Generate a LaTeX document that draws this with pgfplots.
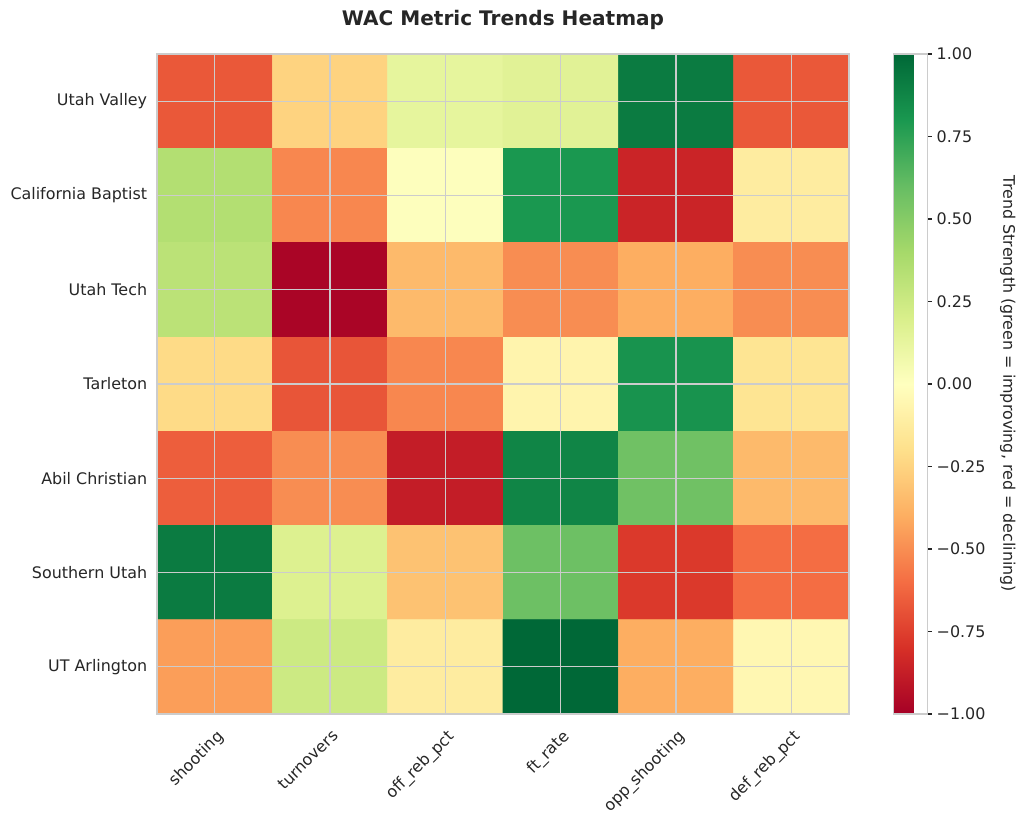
\documentclass[border=0pt]{standalone}
\usepackage{fontspec}
\setmainfont{DejaVu Sans}
\usepackage{pgfplots}
\pgfplotsset{compat=1.18}
\usepackage{pgfplotstable}

\definecolor{txt}{RGB}{38,38,38}
\definecolor{gridc}{RGB}{204,204,204}

% trend strength, rows top to bottom, columns left to right
\pgfplotstableread{
x y c
0 0 -0.67
1 0 -0.25
2 0 0.13
3 0 0.16
4 0 0.92
5 0 -0.67
0 1 0.35
1 1 -0.52
2 1 0.01
3 1 0.80
4 1 -0.85
5 1 -0.12
0 2 0.32
1 2 -0.98
2 2 -0.35
3 2 -0.50
4 2 -0.40
5 2 -0.50
0 3 -0.22
1 3 -0.68
2 3 -0.52
3 3 -0.07
4 3 0.82
5 3 -0.17
0 4 -0.65
1 4 -0.50
2 4 -0.88
3 4 0.88
4 4 0.57
5 4 -0.35
0 5 0.92
1 5 0.18
2 5 -0.32
3 5 0.58
4 5 -0.77
5 5 -0.60
0 6 -0.45
1 6 0.25
2 6 -0.12
3 6 1.00
4 6 -0.40
5 6 -0.05
}\heat

\begin{document}
\begin{tikzpicture}
\path[use as bounding box] (0,0) rectangle (10.24in,8.22in);
\begin{axis}[
    at={(1.57in,1.08in)}, anchor=south west,
    scale only axis,
    width=6.92in, height=6.60in,
    font=\fontsize{11.5}{13.5}\selectfont,
    every tick label/.append style={text=txt},
    title={\bfseries WAC Metric Trends Heatmap},
    title style={font=\fontsize{14.5}{17}\selectfont, text=txt, at={(0.5,1)}, anchor=base, yshift=0.20in},
    xmin=-0.5, xmax=5.5, ymin=-0.5, ymax=6.5,
    y dir=reverse,
    xtick={0,...,5},
    xticklabels={shooting, turnovers, off\_reb\_pct, ft\_rate, opp\_shooting, def\_reb\_pct},
    ytick={0,...,6},
    yticklabels={Utah Valley, California Baptist, Utah Tech, Tarleton, Abil Christian, Southern Utah, UT Arlington},
    x tick label style={xshift=0.01in, yshift=-0.08in, rotate=45, anchor=north east},
    y tick label style={xshift=-0.05in},
    major tick length=0pt,
    grid=major,
    grid style={gridc, line width=0.8pt},
    axis line style={gridc, line width=0.8pt},
    axis on top,
    colormap={RdYlGn}{rgb255=(165,0,38) rgb255=(215,48,39) rgb255=(244,109,67) rgb255=(253,174,97) rgb255=(254,224,139) rgb255=(255,255,191) rgb255=(217,239,139) rgb255=(166,217,106) rgb255=(102,189,99) rgb255=(26,152,80) rgb255=(0,104,55)},
    point meta min=-1, point meta max=1,
    colorbar right,
    colorbar style={
        at={(parent axis.north east)}, anchor=north west, xshift=0.33in,
        width=0.34in,
        grid=none,
        axis line style={gridc, line width=0.8pt},
        ytick={-1,-0.75,-0.5,-0.25,0,0.25,0.5,0.75,1},
        yticklabels={−1.00,−0.75,−0.50,−0.25,0.00,0.25,0.50,0.75,1.00},
        ytick pos=right,
        yticklabel pos=right,
        tick align=outside,
        major tick length=0.04in,
        major tick style={txt, line width=0.8pt},
        yticklabel style={font=\fontsize{11.5}{13.5}\selectfont, text=txt},
        ylabel={Trend Strength (green = improving, red = declining)},
        ylabel style={font=\fontsize{11.5}{13.5}\selectfont, text=txt, rotate=180, at={(axis description cs:1,0.5)}, anchor=center, yshift=0.80in},
    },
]
\addplot[matrix plot*, mesh/cols=6, point meta=explicit] table[x=x, y=y, meta=c] {\heat};
\end{axis}
\end{tikzpicture}
\end{document}
